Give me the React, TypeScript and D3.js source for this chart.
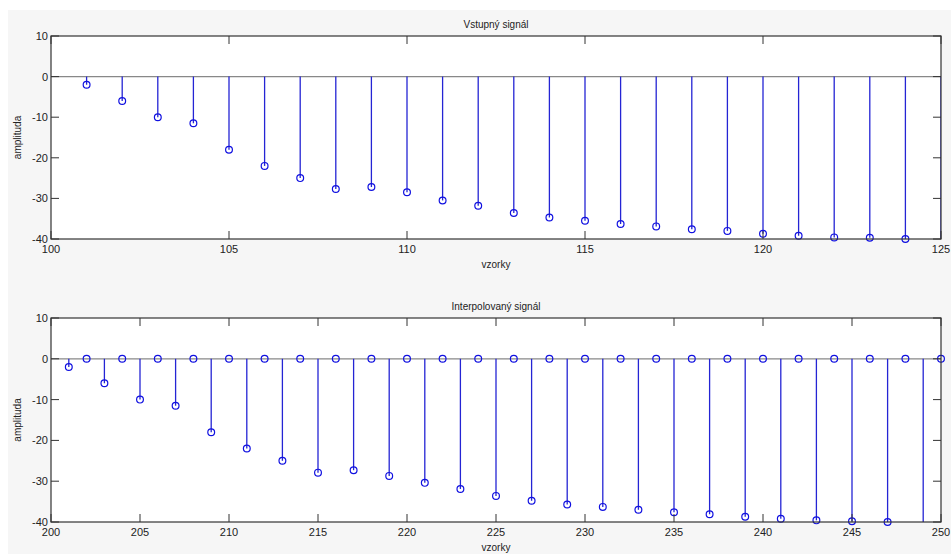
import React, { useEffect, useRef } from 'react';
import * as d3 from 'd3';

// input signal, samples 101..125
const inputSamples = d3.range(101, 126);
const inputValues = [
  -2, -6, -10, -11.5, -18, -22, -25, -27.7, -27.2, -28.5, -30.5, -31.8, -33.6,
  -34.7, -35.5, -36.3, -36.9, -37.6, -38, -38.7, -39.2, -39.6, -39.7, -40, -40.3,
];

// interpolated signal, samples 201..250
const interpSamples = d3.range(201, 251);
const interpValues = [
  -2, 0, -6, 0, -10, 0, -11.5, 0, -18, 0, -22, 0, -25, 0, -27.9, 0, -27.3, 0,
  -28.7, 0, -30.4, 0, -31.9, 0, -33.6, 0, -34.8, 0, -35.7, 0, -36.3, 0, -37, 0,
  -37.6, 0, -38.1, 0, -38.7, 0, -39.2, 0, -39.6, 0, -39.8, 0, -40, 0, -40.3, 0,
];

const yTicks = [-40, -30, -20, -10, 0, 10];
const topXTicks = [100, 105, 110, 115, 120, 125];
const bottomXTicks = [200, 205, 210, 215, 220, 225, 230, 235, 240, 245, 250];

const panels = [
  { title: 'Vstupný signál', samples: inputSamples, values: inputValues, xDomain: [100, 125], xTicks: topXTicks, top: 36, bottom: 239 },
  { title: 'Interpolovaný signál', samples: interpSamples, values: interpValues, xDomain: [200, 250], xTicks: bottomXTicks, top: 318, bottom: 522 },
];

const W = 951;
const H = 554;
const left = 51;
const right = 941;
const font = '"Liberation Sans", Arial, sans-serif';

function App() {
  const ref = useRef(null);

  useEffect(() => {
    const svg = d3.select(ref.current);
    svg.selectAll('*').remove();

    svg.append('rect').attr('x', 8).attr('y', 10).attr('width', W - 8).attr('height', H - 10).attr('fill', '#f6f6f6');

    panels.forEach((p, i) => {
      const x = d3.scaleLinear().domain(p.xDomain).range([left, right]);
      const y = d3.scaleLinear().domain([-40, 10]).range([p.bottom, p.top]);
      const g = svg.append('g');
      const clipId = 'clip' + i;

      g.append('clipPath').attr('id', clipId)
        .append('rect').attr('x', left).attr('y', p.top).attr('width', right - left).attr('height', p.bottom - p.top);

      g.append('rect').attr('x', left).attr('y', p.top).attr('width', right - left).attr('height', p.bottom - p.top)
        .attr('fill', '#ffffff');

      // baseline
      g.append('line').attr('x1', left).attr('x2', right).attr('y1', y(0)).attr('y2', y(0))
        .attr('stroke', '#888').attr('stroke-width', 1.2);

      const pts = p.samples.map((s, k) => ({ s, v: p.values[k] }));

      const plot = g.append('g').attr('clip-path', `url(#${clipId})`);
      plot.selectAll('.stem').data(pts).join('line')
        .attr('class', 'stem')
        .attr('x1', d => x(d.s)).attr('x2', d => x(d.s))
        .attr('y1', y(0)).attr('y2', d => y(d.v))
        .attr('stroke', '#2424d4').attr('stroke-width', 1.3);

      g.selectAll('.marker').data(pts.filter(d => d.v >= -40)).join('circle')
        .attr('class', 'marker')
        .attr('cx', d => x(d.s)).attr('cy', d => y(d.v)).attr('r', 3.4)
        .attr('fill', 'none').attr('stroke', '#1010e0').attr('stroke-width', 1.2);

      // box
      g.append('rect').attr('x', left).attr('y', p.top).attr('width', right - left).attr('height', p.bottom - p.top)
        .attr('fill', 'none').attr('stroke', '#333').attr('stroke-width', 1.2);

      // x ticks (inward, top and bottom)
      p.xTicks.forEach(t => {
        g.append('line').attr('x1', x(t)).attr('x2', x(t)).attr('y1', p.top).attr('y2', p.top + 8).attr('stroke', '#333');
        g.append('line').attr('x1', x(t)).attr('x2', x(t)).attr('y1', p.bottom).attr('y2', p.bottom - 8).attr('stroke', '#333');
        g.append('text').attr('x', x(t)).attr('y', p.bottom + 14).attr('text-anchor', 'middle')
          .attr('font-family', font).attr('font-size', 11).attr('fill', '#222').text(t);
      });

      // y ticks (inward, left and right)
      yTicks.forEach(t => {
        g.append('line').attr('x1', left).attr('x2', left + 8).attr('y1', y(t)).attr('y2', y(t)).attr('stroke', '#333');
        g.append('line').attr('x1', right).attr('x2', right - 8).attr('y1', y(t)).attr('y2', y(t)).attr('stroke', '#333');
        g.append('text').attr('x', left - 3).attr('y', y(t) + 4).attr('text-anchor', 'end')
          .attr('font-family', font).attr('font-size', 11).attr('fill', '#222').text(t);
      });

      g.append('text').attr('x', (left + right) / 2).attr('y', p.top - 8).attr('text-anchor', 'middle')
        .attr('font-family', font).attr('font-size', 10).attr('fill', '#222').text(p.title);

      g.append('text').attr('x', (left + right) / 2).attr('y', p.bottom + 29).attr('text-anchor', 'middle')
        .attr('font-family', font).attr('font-size', 10).attr('fill', '#222').text('vzorky');

      g.append('text')
        .attr('transform', `translate(21,${(p.top + p.bottom) / 2}) rotate(-90)`)
        .attr('text-anchor', 'middle')
        .attr('font-family', font).attr('font-size', 10).attr('fill', '#222').text('amplituda');
    });
  }, []);

  return (
    <svg ref={ref} width={W} height={H}
      style={{ position: 'absolute', left: 0, top: 0, display: 'block', background: '#fff' }} />
  );
}

export default App;
